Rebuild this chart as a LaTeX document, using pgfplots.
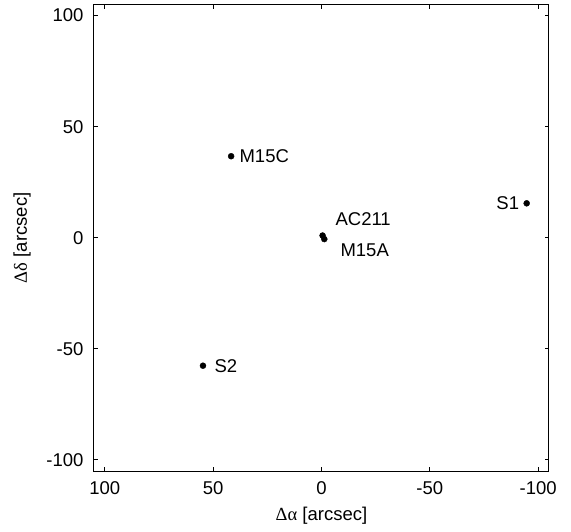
\documentclass[border=0pt]{standalone}
\usepackage{pgfplots}
\pgfplotsset{compat=1.18}
\usepackage{fontspec}
\setmainfont{Liberation Sans}
\newfontfamily\greek{Liberation Serif}

% Positions of the objects, offsets in arcsec
\pgfplotstableread{
x y
41.7 36.7
-94.7 15.5
54.7 -57.6
-0.5 1.0
-1.3 -0.6
}\objects

\begin{document}
\begin{tikzpicture}[x=1pt,y=1pt]
\useasboundingbox (-94,-60) rectangle (477,471);
\begin{axis}[
  at={(0,0)}, anchor=south west,
  scale only axis,
  width=455pt, height=466.5pt,
  x dir=reverse,
  xmin=-105, xmax=105, ymin=-105, ymax=105,
  xtick={-100,-50,0,50,100},
  ytick={-100,-50,0,50,100},
  tick align=inside,
  major tick length=4pt,
  axis line style={line width=1pt},
  every tick/.style={line width=0.9pt, black},
  font=\fontsize{18.5}{22}\selectfont,
  /pgf/number format/assume math mode=true,
  xticklabel style={yshift=-7pt},
  yticklabel style={xshift=-7pt},
  xlabel={{\greek Δα} [arcsec]},
  ylabel={{\greek Δδ} [arcsec]},
  xlabel style={at={(axis description cs:0.5,-0.0965)}, anchor=center},
  ylabel style={at={(axis description cs:-0.158,0.5)}, anchor=center},
  clip=false,
]
\addplot[only marks, mark=*, mark size=3pt, black] table[x=x,y=y] {\objects};
\node[anchor=west, inner sep=0pt] at (axis cs:37.9,36.6) {M15C};
\node[anchor=east, inner sep=0pt] at (axis cs:-91.3,15.4) {S1};
\node[anchor=west, inner sep=0pt] at (axis cs:49.4,-57.6) {S2};
\node[anchor=west, inner sep=0pt] at (axis cs:-6.4,8.4) {AC211};
\node[anchor=west, inner sep=0pt] at (axis cs:-8.7,-5.5) {M15A};
\end{axis}
\end{tikzpicture}
\end{document}
